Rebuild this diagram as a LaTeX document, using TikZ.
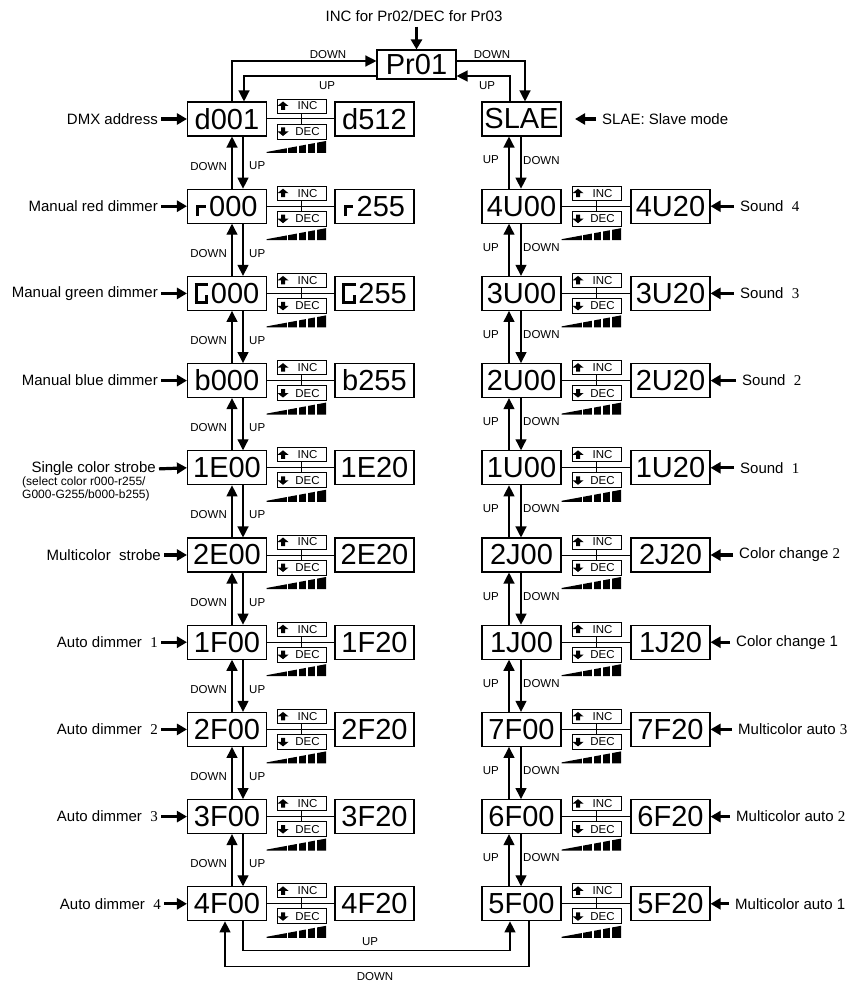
\documentclass[tikz,border=0pt]{standalone}
\usepackage{fontspec}
\setmainfont{Liberation Sans}
\newfontfamily\numfont{Liberation Serif}
\usetikzlibrary{arrows.meta}

% segment-style letters of the display
\newcommand{\segr}{\rlap{\rule{0.1em}{0.38em}}\rule[0.28em]{0.32em}{0.1em}\hspace{0.12em}}
\newcommand{\segG}{\rlap{\rule{0.1em}{0.72em}}\rlap{\rule[0.62em]{0.46em}{0.1em}}\rlap{\rule{0.46em}{0.1em}}\hspace{0.36em}\rule{0.1em}{0.3em}\hspace{0.1em}}

\begin{document}
\begin{tikzpicture}[x=1pt,y=-1pt,>={Triangle[length=11pt,width=11pt]}]
  \tikzstyle{disp}=[draw, line width=1.1pt, minimum width=79pt, minimum height=34pt, inner sep=0pt, font=\fontsize{29}{29}\selectfont]
  \tikzstyle{keybox}=[draw, line width=0.9pt, minimum width=49pt, minimum height=14pt, inner sep=0pt, font=\fontsize{11.5}{11.5}\selectfont]
  \tikzstyle{arrow}=[->, line width=1.3pt]
  \tikzstyle{feed}=[-{Triangle[length=10pt,width=11pt]}, line width=3.2pt]
  \tikzstyle{dir}=[inner sep=0pt, font=\fontsize{11.5}{11.5}\selectfont]
  \tikzstyle{desc}=[inner sep=0pt, font=\fontsize{15}{15}\selectfont]

  \useasboundingbox (0,0) rectangle (852,984);

  \node[disp, minimum height=29pt] (pr) at (416.5,64.5) {Pr01};
  \node[desc] (hint) at (414,16) {INC for Pr02/DEC for Pr03};
  \draw[feed, shorten <=5pt] (pr.north |- hint.south) -- (pr.north);

  % left column
  \node[disp] (L0) at (227,119) {d001};
  \node[disp] (Lb0) at (374.5,119) {d512};
  \node[disp] (L1) at (227,206.2) {\segr 000};
  \node[disp] (Lb1) at (374.5,206.2) {\segr 255};
  \node[disp] (L2) at (227,293.4) {\segG 000};
  \node[disp] (Lb2) at (374.5,293.4) {\segG 255};
  \node[disp] (L3) at (227,380.6) {b000};
  \node[disp] (Lb3) at (374.5,380.6) {b255};
  \node[disp] (L4) at (227,467.8) {1E00};
  \node[disp] (Lb4) at (374.5,467.8) {1E20};
  \node[disp] (L5) at (227,555) {2E00};
  \node[disp] (Lb5) at (374.5,555) {2E20};
  \node[disp] (L6) at (227,642.2) {1F00};
  \node[disp] (Lb6) at (374.5,642.2) {1F20};
  \node[disp] (L7) at (227,729.4) {2F00};
  \node[disp] (Lb7) at (374.5,729.4) {2F20};
  \node[disp] (L8) at (227,816.6) {3F00};
  \node[disp] (Lb8) at (374.5,816.6) {3F20};
  \node[disp] (L9) at (227,903.8) {4F00};
  \node[disp] (Lb9) at (374.5,903.8) {4F20};

  % right column
  \node[disp] (R0) at (521.5,119) {SLAE};
  \node[disp] (R1) at (521.5,206.2) {4U00};
  \node[disp] (Rb1) at (670.5,206.2) {4U20};
  \node[disp] (R2) at (521.5,293.4) {3U00};
  \node[disp] (Rb2) at (670.5,293.4) {3U20};
  \node[disp] (R3) at (521.5,380.6) {2U00};
  \node[disp] (Rb3) at (670.5,380.6) {2U20};
  \node[disp] (R4) at (521.5,467.8) {1U00};
  \node[disp] (Rb4) at (670.5,467.8) {1U20};
  \node[disp] (R5) at (521.5,555) {2J00};
  \node[disp] (Rb5) at (670.5,555) {2J20};
  \node[disp] (R6) at (521.5,642.2) {1J00};
  \node[disp] (Rb6) at (670.5,642.2) {1J20};
  \node[disp] (R7) at (521.5,729.4) {7F00};
  \node[disp] (Rb7) at (670.5,729.4) {7F20};
  \node[disp] (R8) at (521.5,816.6) {6F00};
  \node[disp] (Rb8) at (670.5,816.6) {6F20};
  \node[disp] (R9) at (521.5,903.8) {5F00};
  \node[disp] (Rb9) at (670.5,903.8) {5F20};

  % INC/DEC keys and level ramp
  \foreach \col/\wx/\first in {L/301.5/0, R/596.5/1} {
    \foreach \i in {\first,...,9} {
      \pgfmathsetmacro{\yy}{119+87.2*\i}
      \node[keybox] (inc\col\i) at (\wx,\yy-13) {\hspace{12pt}INC};
      \node[keybox, minimum height=15pt] (dec\col\i) at (\wx,\yy+12.5) {\hspace{12pt}DEC};
      \draw[line width=1pt] (\col\i) -- (\col b\i);
      \draw[line width=1pt] (inc\col\i) -- (dec\col\i);
      \fill (\wx-18.5,\yy-17.5) -- ++(5.5,4.5) -- ++(-3.5,0) -- ++(0,4) -- ++(-4,0) -- ++(0,-4) -- ++(-3.5,0) -- cycle;
      \fill (\wx-18.5,\yy+17) -- ++(5.5,-4.5) -- ++(-3.5,0) -- ++(0,-4) -- ++(-4,0) -- ++(0,4) -- ++(-3.5,0) -- cycle;
      \fill (\wx-35,\yy+33) -- (\wx+24.5,\yy+22) -- (\wx+24.5,\yy+34) -- (\wx-35,\yy+34) -- cycle;
      \foreach \g in {-14,-3.5,5.5,14.5}
        \draw[white, line width=1.6pt] (\wx+\g,\yy+21.5) -- (\wx+\g,\yy+35);
    }
  }

  % up/down between rows
  \foreach \i [evaluate=\i as \j using int(\i+1)] in {0,...,8} {
    \draw[arrow] ([xshift=5pt]L\j.north) -- ([xshift=5pt]L\i.south);
    \draw[arrow] ([xshift=16pt]L\i.south) -- ([xshift=16pt]L\j.north);
    \node[dir, anchor=east] (ldn\i) at (227,166.1+87.2*\i) {DOWN};
    \node[dir, anchor=west] (lup\i) at (249,166.1+87.2*\i) {UP};
    \draw[arrow] ([xshift=-12.5pt]R\j.north) -- ([xshift=-12.5pt]R\i.south);
    \draw[arrow] ([xshift=-0.5pt]R\i.south) -- ([xshift=-0.5pt]R\j.north);
    \node[dir, anchor=east] (rup\i) at (499,160.1+87.2*\i) {UP};
    \node[dir, anchor=west] (rdn\i) at (523,160.1+87.2*\i) {DOWN};
  }

  % to and from Pr01
  \draw[arrow] ([xshift=5pt]L0.north) |- ([yshift=3.5pt]pr.west);
  \draw[arrow] ([yshift=-11.5pt]pr.west) -| ([xshift=17pt]L0.north);
  \draw[arrow] ([yshift=3.5pt]pr.east) -| ([xshift=3.5pt]R0.north);
  \draw[arrow] ([xshift=-11.5pt]R0.north) |- ([yshift=-11.5pt]pr.east);
  \node[dir] (pdl) at (328,55) {DOWN};
  \node[dir] (pul) at (327,86) {UP};
  \node[dir] (pdr) at (492,55) {DOWN};
  \node[dir] (pur) at (487,86) {UP};

  % bottom loop
  \draw[arrow] ([xshift=16pt]L9.south) -- ++(0,29) -| ([xshift=-11.5pt]R9.south);
  \draw[arrow] ([xshift=7.5pt]R9.south) -- ++(0,45) -| ([xshift=-2pt]L9.south);
  \node[dir] (bup) at (370,942) {UP};
  \node[dir] (bdn) at (375,977) {DOWN};

  % mode names, left
  \node[desc, anchor=east] (llab0) at (158,119) {DMX address};
  \node[desc, anchor=east] (llab1) at (158,206.2) {Manual red dimmer};
  \node[desc, anchor=east] (llab2) at (158,293.4) {Manual green dimmer};
  \node[desc, anchor=east] (llab3) at (158,380.6) {Manual blue dimmer};
  \node[desc, anchor=east] (llab4) at (156,469) {Single color strobe};
  \node[desc, anchor=north west, align=left, font=\fontsize{12}{10.5}\selectfont] (lsub) at (22,477) {(select color r000-r255/\\G000-G255/b000-b255)};
  \node[desc, anchor=east] (llab5) at (161,555) {Multicolor\ \ strobe};
  \node[desc, anchor=east] (llab6) at (158,642.2) {Auto dimmer\ \ {\numfont 1}};
  \node[desc, anchor=east] (llab7) at (158,729.4) {Auto dimmer\ \ {\numfont 2}};
  \node[desc, anchor=east] (llab8) at (158,816.6) {Auto dimmer\ \ {\numfont 3}};
  \node[desc, anchor=east] (llab9) at (161,903.8) {Auto dimmer\ \ {\numfont 4}};
  \foreach \i in {0,...,9}
    \draw[feed, shorten <=3pt] (llab\i.east) -- (L\i.west);

  % mode names, right
  \node[desc, anchor=west] (rlab0) at (602,119) {SLAE: Slave mode};
  \coordinate (slaetip) at (575,119);
  \draw[feed, shorten <=6pt] (rlab0.west) -- (slaetip);
  \node[desc, anchor=west] (rlab1) at (740,206.2) {Sound\ \ {\numfont 4}};
  \node[desc, anchor=west] (rlab2) at (740,293.4) {Sound\ \ {\numfont 3}};
  \node[desc, anchor=west] (rlab3) at (742,380.6) {Sound\ \ {\numfont 2}};
  \node[desc, anchor=west] (rlab4) at (740,467.8) {Sound\ \ {\numfont 1}};
  \node[desc, anchor=west] (rlab5) at (739,555) {Color change {\numfont 2}};
  \node[desc, anchor=west] (rlab6) at (736,642.2) {Color change 1};
  \node[desc, anchor=west] (rlab7) at (738,729.4) {Multicolor auto {\numfont 3}};
  \node[desc, anchor=west] (rlab8) at (736,816.6) {Multicolor auto {\numfont 2}};
  \node[desc, anchor=west] (rlab9) at (735,903.8) {Multicolor auto 1};
  \foreach \i in {1,...,9}
    \draw[feed, shorten <=6pt] (rlab\i.west) -- (Rb\i.east);
\end{tikzpicture}
\end{document}
